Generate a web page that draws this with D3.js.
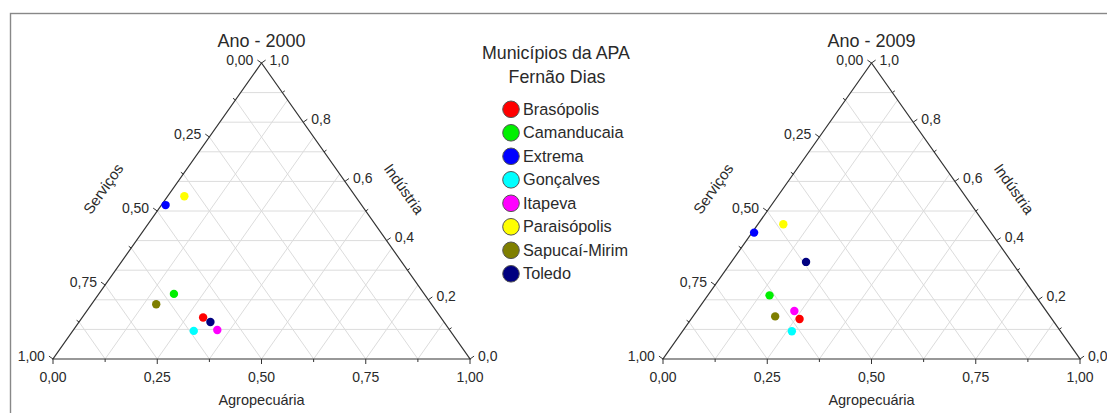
<!DOCTYPE html>
<html>
<head>
<meta charset="utf-8">
<script src="https://cdn.jsdelivr.net/npm/d3@7"></script>
<style>
  body { margin: 0; background: #fff; }
  svg { display: block; }
  text { font-family: "Liberation Sans", Arial, sans-serif; fill: #2a2a2a; }
</style>
</head>
<body>
<svg id="chart" width="1107" height="413"></svg>
<script>
// Municipalities and their marker colours
const municipios = ["Brasópolis", "Camanducaia", "Extrema", "Gonçalves", "Itapeva", "Paraisópolis", "Sapucaí-Mirim", "Toledo"];
const cores = ["#ff0000", "#00f000", "#0000ff", "#00ffff", "#ff00ff", "#ffff00", "#7f7f00", "#000080"];

// Year 2000 shares (Agropecuária, Serviços, Indústria)
const agro2000 = [0.29, 0.18, 0.01, 0.29, 0.345, 0.04, 0.155, 0.315];
const serv2000 = [0.57, 0.60, 0.47, 0.615, 0.557, 0.41, 0.66, 0.56];
const ind2000  = [0.14, 0.22, 0.52, 0.095, 0.098, 0.55, 0.185, 0.125];

// Year 2009 shares
const agro2009 = [0.26, 0.148, 0.005, 0.262, 0.234, 0.061, 0.197, 0.179];
const serv2009 = [0.605, 0.637, 0.568, 0.644, 0.604, 0.484, 0.659, 0.493];
const ind2009  = [0.135, 0.215, 0.427, 0.094, 0.162, 0.455, 0.144, 0.328];

// Tick values
const agroTicks = [0, 0.25, 0.5, 0.75, 1];
const servTicks = [0, 0.25, 0.5, 0.75, 1];
const indTicks  = [0, 0.2, 0.4, 0.6, 0.8, 1];
const agroMinor = [0.125, 0.375, 0.625, 0.875];
const servMinor = [0.125, 0.375, 0.625, 0.875];
const indMinor  = [0.1, 0.3, 0.5, 0.7, 0.9];

const anos = ["Ano - 2000", "Ano - 2009"];

const svg = d3.select("#chart");
const ptBR = d3.formatLocale({ decimal: ",", thousands: ".", grouping: [3], currency: ["R$", ""] });
const fmt2 = ptBR.format(".2f");
const fmt1 = ptBR.format(".1f");

// outer frame (cropped at right and bottom)
svg.append("rect")
    .attr("x", 10.5).attr("y", 13.5)
    .attr("width", 1120).attr("height", 420)
    .attr("fill", "none")
    .attr("stroke", "#888")
    .attr("stroke-width", 1.4);

function ternary(g, left, title, agro, serv, ind) {
    const x = d3.scaleLinear().domain([0, 1]).range([left, left + 417]);
    const y = d3.scaleLinear().domain([0, 1]).range([359, 63]);
    // position of a point from its Agro and Indústria shares
    const px = (a, i) => x(a + i / 2);
    const py = (a, i) => y(i);

    const BL = [px(0, 0), py(0, 0)], BR = [px(1, 0), py(1, 0)], T = [px(0, 1), py(0, 1)];
    const lenL = Math.hypot(T[0] - BL[0], T[1] - BL[1]);
    const dirL = [(T[0] - BL[0]) / lenL, (T[1] - BL[1]) / lenL];
    const nL = [dirL[1], -dirL[0]];
    const lenR = Math.hypot(T[0] - BR[0], T[1] - BR[1]);
    const dirR = [(T[0] - BR[0]) / lenR, (T[1] - BR[1]) / lenR];
    const nR = [-dirR[1], dirR[0]];

    const grid = g.append("g")
        .attr("stroke", "#dcdcdc")
        .attr("stroke-width", 1)
        .attr("fill", "none");

    // Indústria constant lines (horizontal)
    grid.selectAll(".gi").data(d3.range(1, 10).map(d => d / 10)).enter().append("line")
        .attr("x1", d => px(0, d)).attr("y1", d => py(0, d))
        .attr("x2", d => px(1 - d, d)).attr("y2", d => py(1 - d, d));
    // Agropecuária constant lines
    grid.selectAll(".ga").data(d3.range(1, 8).map(d => d / 8)).enter().append("line")
        .attr("x1", d => px(d, 0)).attr("y1", d => py(d, 0))
        .attr("x2", d => px(d, 1 - d)).attr("y2", d => py(d, 1 - d));
    // Serviços constant lines
    grid.selectAll(".gs").data(d3.range(1, 8).map(d => d / 8)).enter().append("line")
        .attr("x1", d => px(1 - d, 0)).attr("y1", d => py(1 - d, 0))
        .attr("x2", d => px(0, 1 - d)).attr("y2", d => py(0, 1 - d));

    // triangle frame
    g.append("path")
        .attr("d", d3.line()([BL, BR, T, BL]) + "Z")
        .attr("fill", "none")
        .attr("stroke", "#333")
        .attr("stroke-width", 1.2);

    const ticks = g.append("g").attr("stroke", "#333").attr("stroke-width", 1);

    // bottom axis (Agropecuária)
    ticks.selectAll(".tb").data(agroTicks.map(v => [v, 5]).concat(agroMinor.map(v => [v, 3]))).enter().append("line")
        .attr("x1", d => px(d[0], 0)).attr("y1", d => py(d[0], 0))
        .attr("x2", d => px(d[0], 0)).attr("y2", d => py(d[0], 0) + d[1]);
    g.selectAll(".lb").data(agroTicks).enter().append("text")
        .attr("x", d => px(d, 0))
        .attr("y", d => py(d, 0) + 23)
        .attr("text-anchor", "middle")
        .attr("font-size", 14)
        .text(d => fmt2(d));

    // left axis (Serviços): a = 0, i = 1 - s
    ticks.selectAll(".tl").data(servTicks.map(v => [v, 5]).concat(servMinor.map(v => [v, 3]))).enter().append("line")
        .attr("x1", d => px(0, 1 - d[0])).attr("y1", d => py(0, 1 - d[0]))
        .attr("x2", d => px(0, 1 - d[0]) + nL[0] * d[1]).attr("y2", d => py(0, 1 - d[0]) + nL[1] * d[1]);
    g.selectAll(".ll").data(servTicks).enter().append("text")
        .attr("x", d => px(0, 1 - d) + nL[0] * 5 - 4)
        .attr("y", d => py(0, 1 - d) + nL[1] * 5 + 4.5)
        .attr("text-anchor", "end")
        .attr("font-size", 14)
        .text(d => fmt2(d));

    // right axis (Indústria): a = 1 - i
    ticks.selectAll(".tr").data(indTicks.map(v => [v, 5]).concat(indMinor.map(v => [v, 3]))).enter().append("line")
        .attr("x1", d => px(1 - d[0], d[0])).attr("y1", d => py(1 - d[0], d[0]))
        .attr("x2", d => px(1 - d[0], d[0]) + nR[0] * d[1]).attr("y2", d => py(1 - d[0], d[0]) + nR[1] * d[1]);
    g.selectAll(".lr").data(indTicks).enter().append("text")
        .attr("x", d => px(1 - d, d) + nR[0] * 5 + 4)
        .attr("y", d => py(1 - d, d) + nR[1] * 5 + 4.5)
        .attr("text-anchor", "start")
        .attr("font-size", 14)
        .text(d => fmt1(d));

    // axis titles
    g.append("text")
        .attr("x", (BL[0] + BR[0]) / 2)
        .attr("y", 405)
        .attr("text-anchor", "middle")
        .attr("font-size", 14.5)
        .text("Agropecuária");

    const midL = [(BL[0] + T[0]) / 2 + nL[0] * 57 - dirL[0] * 13, (BL[1] + T[1]) / 2 + nL[1] * 57 - dirL[1] * 13];
    g.append("text")
        .attr("transform", "translate(" + midL[0] + "," + midL[1] + ") rotate(" + (Math.atan2(dirL[1], dirL[0]) * 180 / Math.PI) + ")")
        .attr("text-anchor", "middle")
        .attr("dy", "0.35em")
        .attr("font-size", 15)
        .text("Serviços");

    const midR = [(BR[0] + T[0]) / 2 + nR[0] * 44 - dirR[0] * 4, (BR[1] + T[1]) / 2 + nR[1] * 44 - dirR[1] * 4];
    g.append("text")
        .attr("transform", "translate(" + midR[0] + "," + midR[1] + ") rotate(" + (Math.atan2(-dirR[1], -dirR[0]) * 180 / Math.PI) + ")")
        .attr("text-anchor", "middle")
        .attr("dy", "0.35em")
        .attr("font-size", 15)
        .text("Indústria");

    // year title
    g.append("text")
        .attr("x", T[0])
        .attr("y", 47)
        .attr("text-anchor", "middle")
        .attr("font-size", 18)
        .text(title);

    // data points
    g.selectAll(".pt").data(municipios).enter().append("circle")
        .attr("cx", (d, k) => px(agro[k], ind[k]))
        .attr("cy", (d, k) => py(agro[k], ind[k]))
        .attr("r", 4.2)
        .attr("fill", (d, k) => cores[k]);
}

ternary(svg.append("g"), 53, anos[0], agro2000, serv2000, ind2000);
ternary(svg.append("g"), 663, anos[1], agro2009, serv2009, ind2009);

// legend
const legend = svg.append("g");
legend.append("text")
    .attr("x", 556).attr("y", 59)
    .attr("text-anchor", "middle")
    .attr("font-size", 17.8)
    .text("Municípios da APA");
legend.append("text")
    .attr("x", 557).attr("y", 83)
    .attr("text-anchor", "middle")
    .attr("font-size", 17.8)
    .text("Fernão Dias");

const item = legend.selectAll(".item").data(municipios).enter().append("g")
    .attr("transform", (d, k) => "translate(511," + (109.3 + k * 23.5) + ")");
item.append("circle")
    .attr("r", 8.3)
    .attr("fill", (d, k) => cores[k])
    .attr("stroke", "#555")
    .attr("stroke-width", 1);
item.append("text")
    .attr("x", 12)
    .attr("y", 5.5)
    .attr("font-size", 16.3)
    .text(d => d);
</script>
</body>
</html>
